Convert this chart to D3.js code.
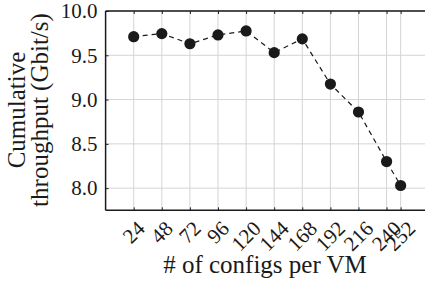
<!DOCTYPE html>
<html>
<head>
<meta charset="UTF-8">
<script src="https://cdn.jsdelivr.net/npm/d3@7"></script>
<style>
  body { margin: 0; background: #fff; }
  text { font-family: "Liberation Serif", "DejaVu Serif", serif; fill: #1a1a1a; }
</style>
</head>
<body>
<svg id="chart" width="425" height="285"></svg>
<script>
// data
var configs = [24, 48, 72, 96, 120, 144, 168, 192, 216, 240, 252]
var throughput = [9.71, 9.745, 9.63, 9.73, 9.775, 9.53, 9.685, 9.175, 8.86, 8.30, 8.03]
var yTicks = [8.0, 8.5, 9.0, 9.5, 10.0]

var svg = d3.select("#chart")
var plotLeft = 105.6, plotTop = 11, plotBottom = 210.3

var x = d3.scaleLinear().domain([0, 276]).range([plotLeft, plotLeft + 276 * 1.1708])
var y = d3.scaleLinear().domain([7.75, 10.0]).range([plotBottom, plotTop])

// grid
svg.append("g").selectAll("line").data(configs).join("line")
    .attr("x1", d => x(d)).attr("x2", d => x(d))
    .attr("y1", plotTop).attr("y2", plotBottom)
    .attr("stroke", "#d4d4d4").attr("stroke-width", 1)
svg.append("g").selectAll("line").data(yTicks).join("line")
    .attr("x1", plotLeft).attr("x2", 430)
    .attr("y1", d => y(d)).attr("y2", d => y(d))
    .attr("stroke", "#d4d4d4").attr("stroke-width", 1)

// axes
var yAxis = svg.append("g").attr("transform", "translate(" + plotLeft + ",0)")
    .call(d3.axisLeft(y).tickValues(yTicks).tickFormat(d3.format(".1f")).tickSize(-3).tickPadding(8))
yAxis.select(".domain").remove()
yAxis.selectAll("text").attr("font-size", 21).attr("fill", "#1a1a1a")
yAxis.selectAll("line").attr("stroke", "#222")

var xAxis = svg.append("g").attr("transform", "translate(0," + plotBottom + ")")
    .call(d3.axisBottom(x).tickValues(configs).tickSize(-3).tickFormat(""))
xAxis.select(".domain").remove()
xAxis.selectAll("line").attr("stroke", "#222")
var xTop = svg.append("g").attr("transform", "translate(0," + plotTop + ")")
    .call(d3.axisTop(x).tickValues(configs).tickSize(-3).tickFormat(""))
xTop.select(".domain").remove()
xTop.selectAll("line").attr("stroke", "#222")

// rotated tick labels, bbox centred under the tick
var labels = svg.append("g").selectAll("text").data(configs).join("text")
    .attr("font-size", 21)
    .attr("text-anchor", "middle")
    .attr("dominant-baseline", "central")
    .text(d => d)
labels.each(function(d) {
    var w = this.getComputedTextLength()
    var h = 14
    var cy = 220 + (w + h) / Math.SQRT2 / 2
    d3.select(this).attr("transform", "translate(" + x(d) + "," + cy + ") rotate(-45)")
})

// spines
svg.append("line").attr("x1", plotLeft).attr("x2", plotLeft).attr("y1", plotTop).attr("y2", plotBottom)
    .attr("stroke", "#1a1a1a").attr("stroke-width", 1.5)
svg.append("line").attr("x1", plotLeft).attr("x2", 430).attr("y1", plotBottom).attr("y2", plotBottom)
    .attr("stroke", "#1a1a1a").attr("stroke-width", 1.5)
svg.append("line").attr("x1", plotLeft).attr("x2", 430).attr("y1", plotTop).attr("y2", plotTop)
    .attr("stroke", "#1a1a1a").attr("stroke-width", 1.5)

// series
var pts = configs.map((c, i) => [c, throughput[i]])
svg.append("path").datum(pts)
    .attr("d", d3.line().x(d => x(d[0])).y(d => y(d[1])))
    .attr("fill", "none").attr("stroke", "#1a1a1a")
    .attr("stroke-width", 1.2).attr("stroke-dasharray", "5,4")
svg.append("g").selectAll("circle").data(pts).join("circle")
    .attr("cx", d => x(d[0])).attr("cy", d => y(d[1])).attr("r", 5.6)
    .attr("fill", "#1a1a1a")

// axis titles
svg.append("text").attr("font-size", 25).attr("text-anchor", "middle")
    .attr("x", 265).attr("y", 273).text("# of configs per VM")
var yl = svg.append("text").attr("font-size", 25).attr("text-anchor", "middle")
    .attr("transform", "translate(0,110) rotate(-90)")
yl.append("tspan").attr("x", 0).attr("y", 25).text("Cumulative")
yl.append("tspan").attr("x", 0).attr("y", 48).text("throughput (Gbit/s)")
</script>
</body>
</html>
